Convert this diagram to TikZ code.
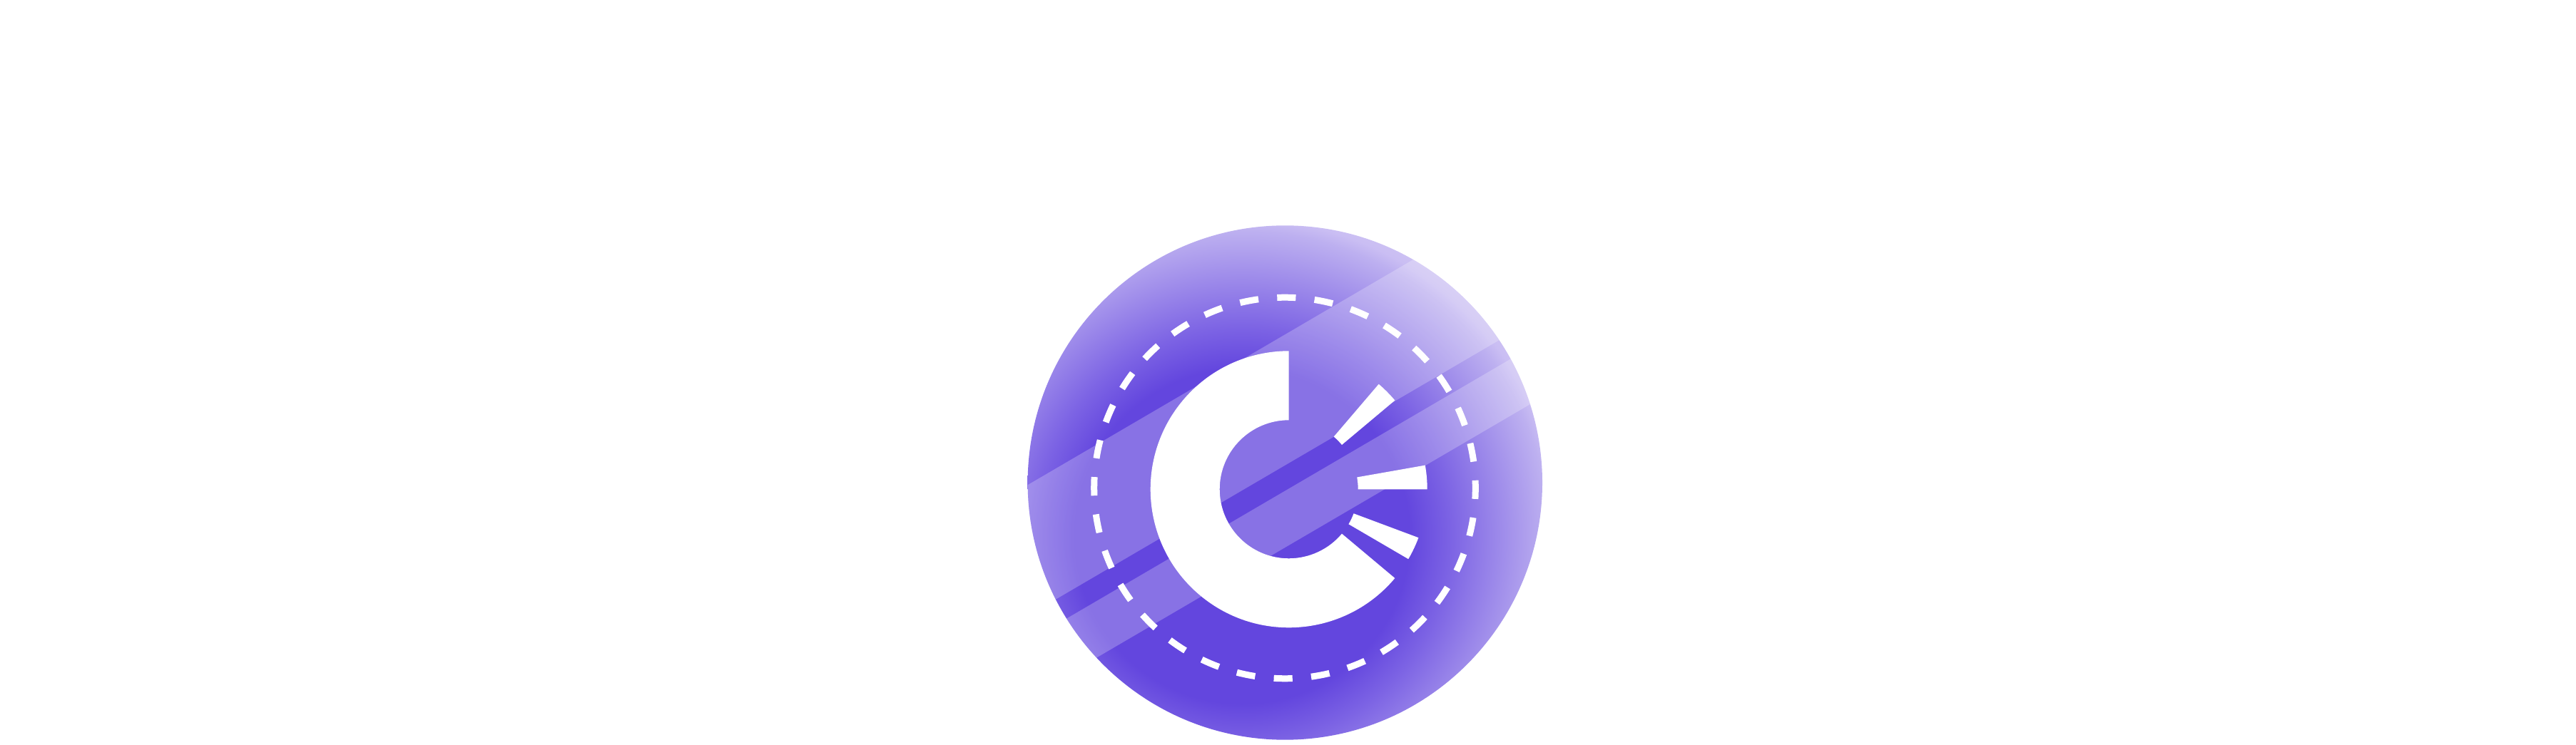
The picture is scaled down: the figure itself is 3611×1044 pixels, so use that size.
\documentclass[tikz,border=0pt]{standalone}
\definecolor{gA}{HTML}{6346DE}
\definecolor{gB}{HTML}{7C63E4}
\definecolor{gC}{HTML}{BDB0F0}
\definecolor{gD}{HTML}{CABEF3}
\definecolor{gE}{HTML}{D0C5F5}
\pgfdeclareradialshading{discglow}{\pgfpoint{0bp}{0bp}}{%
  color(0bp)=(gA); color(12.24bp)=(gA); color(15.21bp)=(gB); color(22.29bp)=(gC); color(23.18bp)=(gD); color(25bp)=(gE); color(50bp)=(gE)}
\tikzset{
  sheen/.style={fill=white,fill opacity=0.24},
  blade/.style={fill=white},
  tick/.style={draw=white,line width=9pt,line cap=butt}
}
\newcommand{\sector}[2]{\path[blade] (#1:97pt) arc[start angle=#1,end angle=#2,radius=97pt] -- (#2:194pt) arc[start angle=#2,end angle=#1,radius=194pt] -- cycle;}
\begin{document}
\begin{tikzpicture}[x=1pt,y=1pt]
\useasboundingbox (0,0) rectangle (3611,1044);
\fill[white] (0,0) rectangle (3611,1044);
\begin{scope}
  \clip (1801.3,367) circle[radius=360.7pt];
  \path[shading=discglow] (1261,-188) rectangle (2221,772);
  \path[sheen] (1400,340) -- (2200,808) -- (2200,624.5) -- (1400,156.5) -- cycle;
  \path[sheen] (1400,120.7) -- (2200,588.7) -- (2200,509.2) -- (1400,41.2) -- cycle;
\end{scope}
\begin{scope}[shift={(1801,359.5)}]
  \foreach \k in {0,...,31}{
    \pgfmathsetmacro{\a}{\k*11.25-0.5-2.8}
    \pgfmathsetmacro{\b}{\k*11.25-0.5+2.8}
    \draw[tick] (\a:267.3pt) arc[start angle=\a,end angle=\b,radius=267.3pt];
  }
\end{scope}
\begin{scope}[shift={(1806.7,357.7)}]
  \sector{90}{320}
  \sector{40}{49.5}
  \sector{0}{10}
  \sector{-30.3}{-20.5}
\end{scope}
\end{tikzpicture}
\end{document}
